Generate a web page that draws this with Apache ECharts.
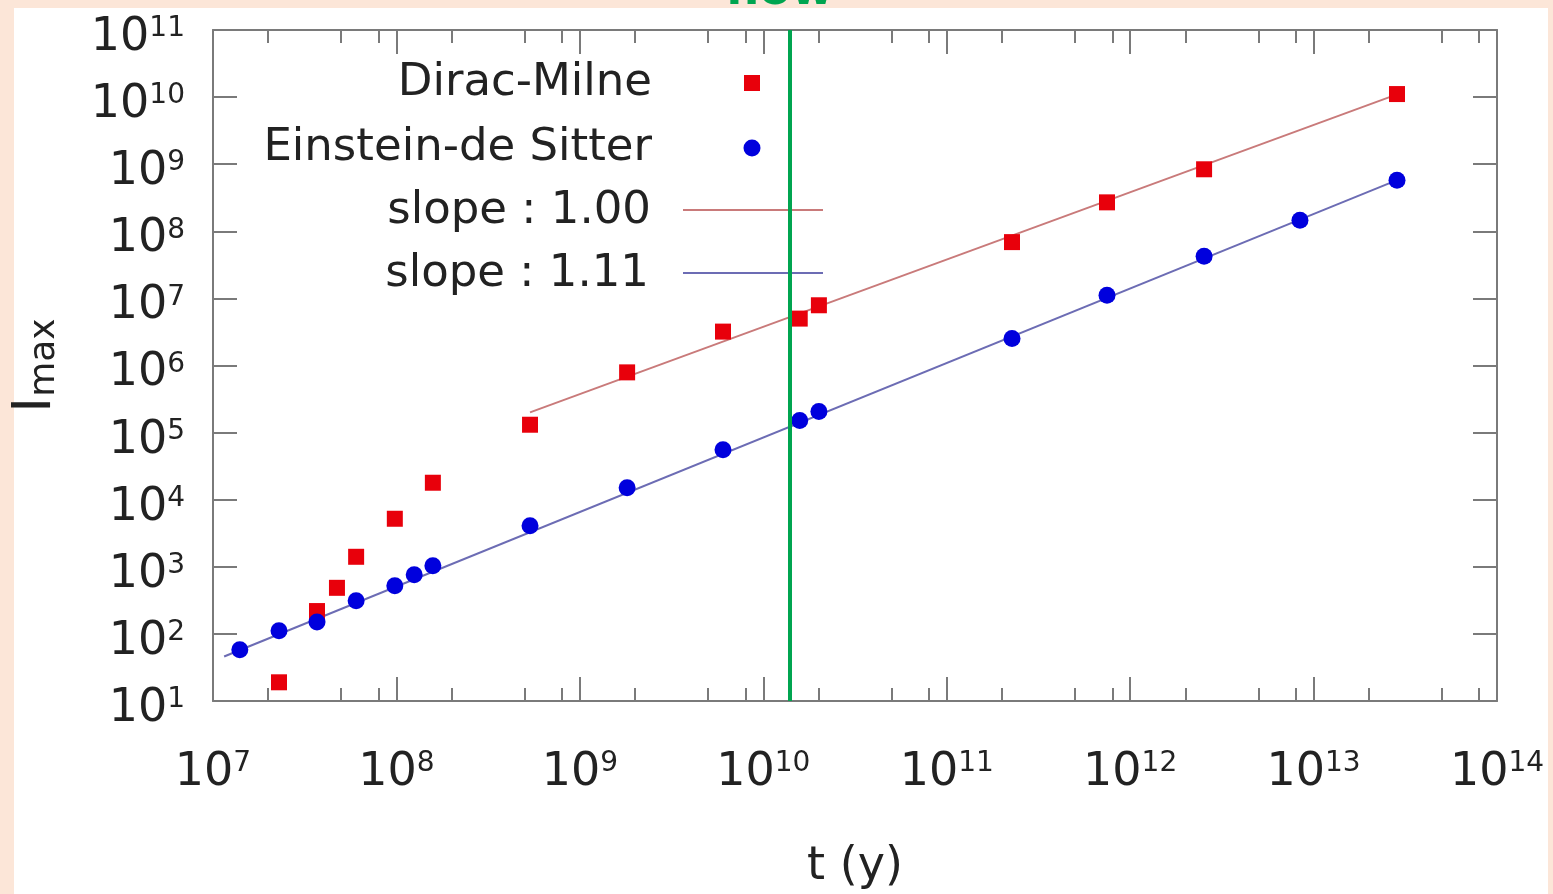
<!DOCTYPE html>
<html>
<head>
<meta charset="utf-8">
<style>
html, body { margin: 0; padding: 0; background: #fce6d8; }
#chart { width: 1553px; height: 894px; }
</style>
<script src="https://cdn.jsdelivr.net/npm/echarts@6/dist/echarts.min.js"></script>
</head>
<body>
<div id="chart"></div>
<script>
// Dirac-Milne simulation points (t in years, I_max)
var dmTime = [2.29e7, 3.69e7, 4.74e7, 6.03e7, 9.8e7, 1.58e8, 5.35e8, 1.81e9, 6.03e9, 1.58e10, 2.01e10, 2.27e11, 7.48e11, 2.53e12, 2.85e13];
var dmImax = [19, 219, 486, 1410, 5200, 17900, 1.31e5, 7.9e5, 3.2e6, 5.0e6, 7.9e6, 6.9e7, 2.7e8, 8.4e8, 1.11e10];

// Einstein-de Sitter simulation points
var edsTime = [1.40e7, 2.29e7, 3.69e7, 6.03e7, 9.8e7, 1.25e8, 1.58e8, 5.35e8, 1.81e9, 6.03e9, 1.58e10, 2.01e10, 2.27e11, 7.48e11, 2.53e12, 8.43e12, 2.85e13];
var edsImax = [58, 111, 151, 311, 520, 760, 1035, 4090, 15100, 55700, 1.51e5, 2.06e5, 2.53e6, 1.11e7, 4.24e7, 1.46e8, 5.77e8];

// fit line end points
var fitDmTime = [5.35e8, 2.85e13];
var fitDmImax = [2.0e5, 1.1e10];
var fitEdsTime = [1.15e7, 2.85e13];
var fitEdsImax = [46, 5.8e8];

var nowAge = 1.4e10;

var xTicks = [1e7, 1e8, 1e9, 1e10, 1e11, 1e12, 1e13, 1e14];
var xMinorTicks = [2e7, 5e7, 8e7, 2e8, 5e8, 8e8, 2e9, 5e9, 8e9, 2e10, 5e10, 8e10,
                   2e11, 5e11, 8e11, 2e12, 5e12, 8e12, 2e13, 5e13, 8e13];
var yTicks = [1e1, 1e2, 1e3, 1e4, 1e5, 1e6, 1e7, 1e8, 1e9, 1e10, 1e11];

var legendNames = ['Dirac-Milne', 'Einstein-de Sitter', 'slope : 1.00', 'slope : 1.11'];

var FONT = '"DejaVu Sans", sans-serif';
var TXT = '#222';
var AX = '#7a7a7a';
var RED = '#e8000b';
var BLUE = '#0000dd';

function pairs(a, b) {
    return a.map(function (v, i) { return [v, b[i]]; });
}

function powLabel(v) {
    var e = Math.round(Math.log(v) / Math.LN10);
    return '{b|10}{s|' + e + '}';
}

var powRich = {
    b: { fontSize: 46, fontFamily: FONT, color: TXT, lineHeight: 46 },
    s: { fontSize: 28, fontFamily: FONT, color: TXT, lineHeight: 12, verticalAlign: 'top' }
};

function xAxisDef(pos, ticks, len, major) {
    return {
        type: 'log', logBase: 10, min: 1e7, max: 1e14, position: pos,
        axisLine: { show: major, onZero: false, lineStyle: { color: AX, width: 2 } },
        axisTick: { show: true, inside: true, length: len, customValues: ticks, lineStyle: { color: AX, width: 2 } },
        axisLabel: { show: false },
        splitLine: { show: false },
        minorTick: { show: false }
    };
}

var xMain = xAxisDef('bottom', xTicks, 24, true);
xMain.axisLabel = { show: true, customValues: xTicks, formatter: powLabel, rich: powRich, margin: 49 };
xMain.name = 't (y)';
xMain.nameLocation = 'middle';
xMain.nameGap = 143;
xMain.nameTextStyle = { fontSize: 46, fontFamily: FONT, color: TXT };

function yAxisDef(pos, showLabel) {
    return {
        type: 'log', logBase: 10, min: 1e1, max: 1e11, position: pos,
        axisLine: { show: true, onZero: false, lineStyle: { color: AX, width: 2 } },
        axisTick: { show: true, inside: true, length: 24, customValues: yTicks, lineStyle: { color: AX, width: 2 } },
        axisLabel: showLabel ? { show: true, customValues: yTicks, formatter: powLabel, rich: powRich, margin: 28, padding: [16, 0, 0, 0] } : { show: false },
        splitLine: { show: false },
        minorTick: { show: false }
    };
}

var yMain = yAxisDef('left', true);
yMain.name = '{i|I}{m|max}';
yMain.nameLocation = 'middle';
yMain.nameGap = 150;
yMain.nameTextStyle = {
    rich: {
        i: { fontSize: 54, fontFamily: FONT, color: TXT, lineHeight: 54 },
        m: { fontSize: 36, fontFamily: FONT, color: TXT, lineHeight: 12, verticalAlign: 'bottom' }
    }
};

var legendTop = [83, 148, 211, 274];

var option = {
    backgroundColor: '#fce6d8',
    animation: false,
    grid: { left: 213, right: 56, top: 30, bottom: 193, outerBoundsMode: 'none', containLabel: false },
    xAxis: [
        xMain,
        xAxisDef('bottom', xMinorTicks, 13, false),
        xAxisDef('top', xTicks, 24, true),
        xAxisDef('top', xMinorTicks, 13, false)
    ],
    yAxis: [yMain, yAxisDef('right', false)],
    graphic: [
        { type: 'rect', z: -100, silent: true, shape: { x: 14, y: 8, width: 1534, height: 900 }, style: { fill: '#ffffff' } },
        { type: 'text', x: 780, y: 15, z: 50, style: { text: 'now', fill: '#00a550', fontSize: 46, fontWeight: 'bold', fontFamily: FONT, align: 'center', verticalAlign: 'bottom' } },
        { type: 'text', x: 652, y: legendTop[0], style: { text: legendNames[0], fill: TXT, fontSize: 45, fontFamily: FONT, align: 'right', verticalAlign: 'middle' } },
        { type: 'text', x: 652, y: legendTop[1], style: { text: legendNames[1], fill: TXT, fontSize: 45, fontFamily: FONT, align: 'right', verticalAlign: 'middle' } },
        { type: 'text', x: 651, y: legendTop[2], style: { text: legendNames[2], fill: TXT, fontSize: 45, fontFamily: FONT, align: 'right', verticalAlign: 'middle' } },
        { type: 'text', x: 649, y: legendTop[3], style: { text: legendNames[3], fill: TXT, fontSize: 45, fontFamily: FONT, align: 'right', verticalAlign: 'middle' } },
        { type: 'rect', shape: { x: 744, y: legendTop[0] - 8, width: 16, height: 16 }, style: { fill: RED } },
        { type: 'circle', shape: { cx: 752, cy: legendTop[1], r: 8.5 }, style: { fill: BLUE } },
        { type: 'line', shape: { x1: 683, y1: legendTop[2] - 1, x2: 823, y2: legendTop[2] - 1 }, style: { stroke: '#c97a7a', lineWidth: 2 } },
        { type: 'line', shape: { x1: 683, y1: legendTop[3] - 1, x2: 823, y2: legendTop[3] - 1 }, style: { stroke: '#6c6cb4', lineWidth: 2 } }
    ],
    series: [
        {
            name: legendNames[2], type: 'line', data: pairs(fitDmTime, fitDmImax),
            showSymbol: false, symbol: 'none', z: 2,
            lineStyle: { color: '#c97a7a', width: 2 }
        },
        {
            name: legendNames[3], type: 'line', data: pairs(fitEdsTime, fitEdsImax),
            showSymbol: false, symbol: 'none', z: 2,
            lineStyle: { color: '#6c6cb4', width: 2 },
            markLine: {
                silent: true, symbol: 'none', label: { show: false },
                lineStyle: { color: '#00a550', width: 4, type: 'solid', opacity: 1 },
                data: [{ xAxis: nowAge }]
            }
        },
        {
            name: legendNames[0], type: 'scatter', data: pairs(dmTime, dmImax),
            symbol: 'rect', symbolSize: 16, z: 3,
            itemStyle: { color: RED, opacity: 1 }
        },
        {
            name: legendNames[1], type: 'scatter', data: pairs(edsTime, edsImax),
            symbol: 'circle', symbolSize: 17, z: 4,
            itemStyle: { color: BLUE, opacity: 1 }
        }
    ]
};

var myChart = echarts.init(document.getElementById('chart'));
myChart.setOption(option);
</script>
</body>
</html>
